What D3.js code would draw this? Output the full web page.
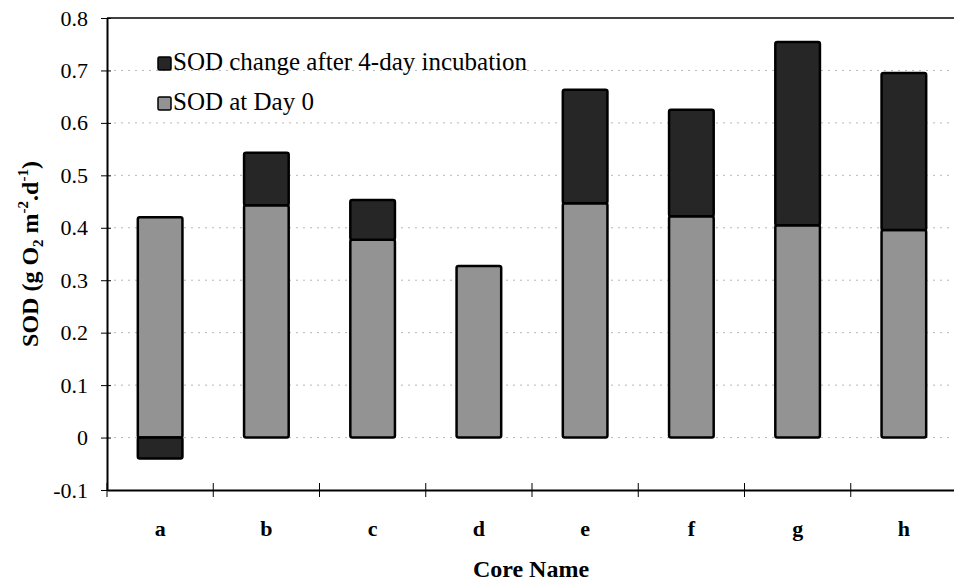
<!DOCTYPE html>
<html>
<head>
	<meta charset="utf-8">
	<script src="https://cdnjs.cloudflare.com/ajax/libs/d3/7.8.5/d3.min.js"></script>
	<style>
		body { margin: 0; background: white; }
		text { font-family: "Liberation Serif", "Times New Roman", serif; fill: black; }
	</style>
</head>
<body>
	<svg id="main" width="954" height="584"></svg>
	<script>
		// data
		var cores = ['a', 'b', 'c', 'd', 'e', 'f', 'g', 'h'];
		var sodDay0 = [0.42, 0.443, 0.377, 0.327, 0.447, 0.422, 0.405, 0.396];
		var sodChange = [-0.04, 0.10, 0.076, 0, 0.216, 0.203, 0.349, 0.299];
		var yTicks = [-0.1, 0, 0.1, 0.2, 0.3, 0.4, 0.5, 0.6, 0.7, 0.8];
		var legendLabels = ['SOD change after 4-day incubation', 'SOD at Day 0'];

		var SERIF = '"Liberation Serif", "Times New Roman", serif';
		var svg = d3.select('#main');
		var plotLeft = 107, plotRight = 957, plotTop = 18, plotBottom = 490;

		var x = d3.scaleBand().domain(cores).range([plotLeft, plotRight]).paddingInner(0.58).paddingOuter(0.29);
		var xb = d3.scaleBand().domain(cores).range([plotLeft, plotRight]);
		var y = d3.scaleLinear().domain([-0.1, 0.8]).range([plotBottom, plotTop]);

		// dotted gridlines
		svg.append('g').selectAll('line')
			.data(yTicks.filter(function(d) { return d > -0.1 && d < 0.8; }))
			.enter().append('line')
			.attr('x1', plotLeft).attr('x2', plotRight)
			.attr('y1', function(d) { return y(d); })
			.attr('y2', function(d) { return y(d); })
			.attr('stroke', '#b8b8b8').attr('stroke-width', 1)
			.attr('stroke-dasharray', '2,5');

		// top border
		svg.append('line').attr('x1', plotLeft).attr('x2', plotRight).attr('y1', y(0.8)).attr('y2', y(0.8))
			.attr('stroke', 'black').attr('stroke-width', 1.5);

		var rows = cores.map(function(c, i) {
			return { core: c, day0: sodDay0[i], change: sodChange[i] };
		});

		var g = svg.append('g');
		// day 0 segments
		g.selectAll('rect.day0').data(rows).enter().append('rect')
			.attr('class', 'day0')
			.attr('x', function(d) { return x(d.core); })
			.attr('width', x.bandwidth())
			.attr('y', function(d) { return y(d.day0); })
			.attr('height', function(d) { return y(0) - y(d.day0); })
			.attr('fill', '#939393').attr('stroke', 'black').attr('stroke-width', 2.5)
			.attr('rx', 2);

		// change segments (stacked on top, or below zero when negative)
		g.selectAll('rect.change').data(rows.filter(function(d) { return d.change !== 0; })).enter().append('rect')
			.attr('class', 'change')
			.attr('x', function(d) { return x(d.core); })
			.attr('width', x.bandwidth())
			.attr('y', function(d) { return d.change > 0 ? y(d.day0 + d.change) : y(0); })
			.attr('height', function(d) { return Math.abs(y(0) - y(d.change)); })
			.attr('fill', '#262626').attr('stroke', 'black').attr('stroke-width', 2.5)
			.attr('rx', 2);

		// y axis
		var yAxis = svg.append('g').attr('transform', 'translate(' + plotLeft + ',0)')
			.call(d3.axisLeft(y).tickValues(yTicks).tickSize(0).tickPadding(19)
				.tickFormat(function(d) { return d === 0 ? '0' : d.toFixed(1); }));
		yAxis.attr('font-family', SERIF);
		yAxis.select('.domain').attr('stroke-width', 2);
		yAxis.selectAll('.tick text').style('font-family', SERIF).style('font-size', '22px');
		yAxis.selectAll('.tick').append('line').attr('x1', -6).attr('x2', 4).attr('stroke', 'black');

		// x axis
		var xAxis = svg.append('g').attr('transform', 'translate(0,' + plotBottom + ')')
			.call(d3.axisBottom(x).tickSize(0).tickPadding(30));
		xAxis.attr('font-family', SERIF);
		xAxis.select('.domain').attr('stroke-width', 2);
		xAxis.selectAll('.tick text').style('font-family', SERIF).style('font-size', '22px').style('font-weight', 'bold');
		xAxis.selectAll('line.sep').data(cores).enter().append('line')
			.attr('class', 'sep')
			.attr('x1', function(d) { return xb(d); }).attr('x2', function(d) { return xb(d); })
			.attr('y1', -7).attr('y2', 7).attr('stroke', 'black');

		// axis titles
		svg.append('text').attr('x', 531).attr('y', 577).attr('text-anchor', 'middle')
			.style('font-size', '24px').style('font-weight', 'bold').text('Core Name');

		var yl = svg.append('text').attr('transform', 'translate(38,' + y(0.35) + ') rotate(-90)')
			.attr('text-anchor', 'middle').style('font-size', '24px').style('font-weight', 'bold');
		yl.append('tspan').text('SOD (g O');
		yl.append('tspan').style('font-size', '15px').attr('dy', 5).text('2');
		yl.append('tspan').attr('dy', -5).text(' m');
		yl.append('tspan').style('font-size', '15px').attr('dy', -10).text('-2');
		yl.append('tspan').attr('dy', 10).text('.d');
		yl.append('tspan').style('font-size', '15px').attr('dy', -10).text('-1');
		yl.append('tspan').attr('dy', 10).text(')');

		// legend
		var legendFills = ['#262626', '#939393'];
		var lg = svg.append('g').selectAll('g').data(legendLabels).enter().append('g')
			.attr('transform', function(d, i) { return 'translate(158,' + (57 + i * 40) + ')'; });
		lg.append('rect').attr('width', 13).attr('height', 13).attr('rx', 1.5)
			.attr('fill', function(d, i) { return legendFills[i]; })
			.attr('stroke', 'black').attr('stroke-width', 1.5);
		lg.append('text').attr('x', 15).attr('y', 13).style('font-size', '25px').text(function(d) { return d; });
	</script>
</body>
</html>
